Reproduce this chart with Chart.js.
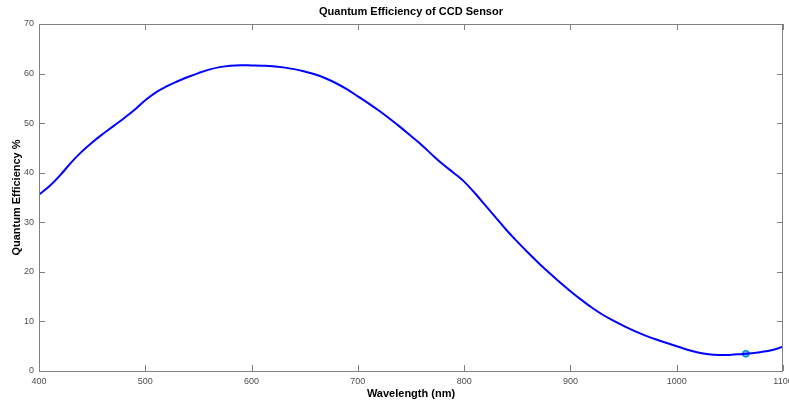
<!DOCTYPE html>
<html>
<head>
<meta charset="utf-8">
<title>Quantum Efficiency of CCD Sensor</title>
<script src="https://cdn.jsdelivr.net/npm/chart.js@4"></script>
<style>
  html, body { margin: 0; padding: 0; background: #fff; overflow: hidden; }
  #wrap { width: 789px; height: 402px; position: relative; }
</style>
</head>
<body>
<div id="wrap"><canvas id="qeChart"></canvas></div>
<script>
// wavelength samples (nm) and quantum efficiency (%)
const wavelengths = [
    400, 410, 420, 430, 440, 450, 460, 470, 480, 490,
    500, 510, 520, 530, 540, 550, 560, 570, 580, 590,
    600, 610, 620, 630, 640, 650, 660, 670, 680, 690,
    700, 710, 720, 730, 740, 750, 760, 770, 780, 790,
    800, 810, 820, 830, 840, 850, 860, 870, 880, 890,
    900, 910, 920, 930, 940, 950, 960, 970, 980, 990,
    1000, 1010, 1020, 1030, 1040, 1050, 1060, 1070, 1080, 1090, 1100
];
const efficiency = [
    35.6, 37.3, 39.5, 42.0, 44.2, 46.1, 47.8, 49.4, 51.0, 52.7,
    54.6, 56.2, 57.4, 58.4, 59.3, 60.1, 60.8, 61.3, 61.6, 61.7,
    61.65, 61.6, 61.5, 61.25, 60.9, 60.4, 59.8, 59.0, 58.0, 56.8,
    55.4, 54.0, 52.5, 50.9, 49.2, 47.4, 45.6, 43.6, 41.7, 40.0,
    38.2, 35.9, 33.4, 30.9, 28.4, 26.1, 23.9, 21.8, 19.8, 17.9,
    16.1, 14.4, 12.8, 11.4, 10.2, 9.1, 8.1, 7.2, 6.4, 5.7,
    5.0, 4.3, 3.75, 3.4, 3.25, 3.25, 3.4, 3.6, 3.85, 4.25, 4.9
];
// highlighted point on the curve
const markerX = [1065];
const markerY = [3.5];

const xTicks = { min: 400, max: 1100, step: 100 };
const yTicks = { min: 0, max: 70, step: 10 };

const axisColor = '#808080';
const labelColor = '#4d4d4d';
const fontFamily = "'Liberation Sans', Arial, Helvetica, sans-serif";

// MATLAB-like box with inward ticks on all four sides
const boxPlugin = {
    id: 'boxAxes',
    afterDraw(chart) {
        const { ctx, chartArea: a, scales } = chart;
        const len = 6;
        ctx.save();
        ctx.strokeStyle = axisColor;
        ctx.lineWidth = 1;
        ctx.beginPath();
        ctx.rect(a.left + 0.5, a.top + 0.5, a.right - a.left - 1, a.bottom - a.top);
        scales.x.ticks.forEach(t => {
            const px = Math.round(scales.x.getPixelForValue(t.value)) + 0.5;
            ctx.moveTo(px, a.bottom); ctx.lineTo(px, a.bottom - len);
            ctx.moveTo(px, a.top); ctx.lineTo(px, a.top + len);
        });
        scales.y.ticks.forEach(t => {
            const py = Math.round(scales.y.getPixelForValue(t.value)) + 0.5;
            ctx.moveTo(a.left, py); ctx.lineTo(a.left + len, py);
            ctx.moveTo(a.right, py); ctx.lineTo(a.right - len, py);
        });
        ctx.stroke();
        ctx.restore();
    }
};

new Chart(document.getElementById('qeChart'), {
    type: 'line',
    data: {
        datasets: [{
            data: wavelengths.map((w, i) => ({ x: w, y: efficiency[i] })),
            borderColor: '#0000ff',
            borderWidth: 2,
            pointRadius: 0,
            tension: 0.4
        }, {
            data: markerX.map((w, i) => ({ x: w, y: markerY[i] })),
            showLine: false,
            pointStyle: 'circle',
            pointRadius: 3,
            borderWidth: 1.5,
            borderColor: '#0a86d6',
            backgroundColor: '#7cc8f0'
        }]
    },
    options: {
        responsive: true,
        maintainAspectRatio: false,
        animation: false,
        layout: { padding: { left: 0, right: 6, top: 0, bottom: 0 } },
        plugins: {
            legend: { display: false },
            tooltip: { enabled: false },
            title: {
                display: true,
                fullSize: false,
                text: 'Quantum Efficiency of CCD Sensor',
                color: '#000',
                font: { family: fontFamily, size: 11, weight: 'bold' },
                padding: { top: 5, bottom: 5.8 }
            }
        },
        scales: {
            x: {
                type: 'linear',
                min: xTicks.min,
                max: xTicks.max,
                grid: { display: false, drawTicks: false },
                border: { display: false },
                ticks: {
                    stepSize: xTicks.step,
                    color: labelColor,
                    padding: 5,
                    maxRotation: 0,
                    font: { family: fontFamily, size: 9 },
                    callback: v => String(v)
                },
                title: {
                    display: true,
                    text: 'Wavelength (nm)',
                    color: '#000',
                    font: { family: fontFamily, size: 11, weight: 'bold' },
                    padding: { top: 0, bottom: 1.5 }
                },
                afterFit(scale) {
                    scale.height = 31;
                    scale.paddingLeft = 0;
                    scale.paddingRight = 0;
                }
            },
            y: {
                min: yTicks.min,
                max: yTicks.max,
                grid: { display: false, drawTicks: false },
                border: { display: false },
                ticks: {
                    stepSize: yTicks.step,
                    color: labelColor,
                    padding: 5,
                    font: { family: fontFamily, size: 9 },
                    callback: v => String(v)
                },
                title: {
                    display: true,
                    text: 'Quantum Efficiency %',
                    color: '#000',
                    font: { family: fontFamily, size: 11, weight: 'bold' },
                    padding: { top: 10, bottom: 0 }
                },
                afterFit(scale) {
                    scale.width = 39;
                    scale.paddingTop = 0;
                    scale.paddingBottom = 0;
                }
            }
        }
    },
    plugins: [boxPlugin]
});
</script>
</body>
</html>
